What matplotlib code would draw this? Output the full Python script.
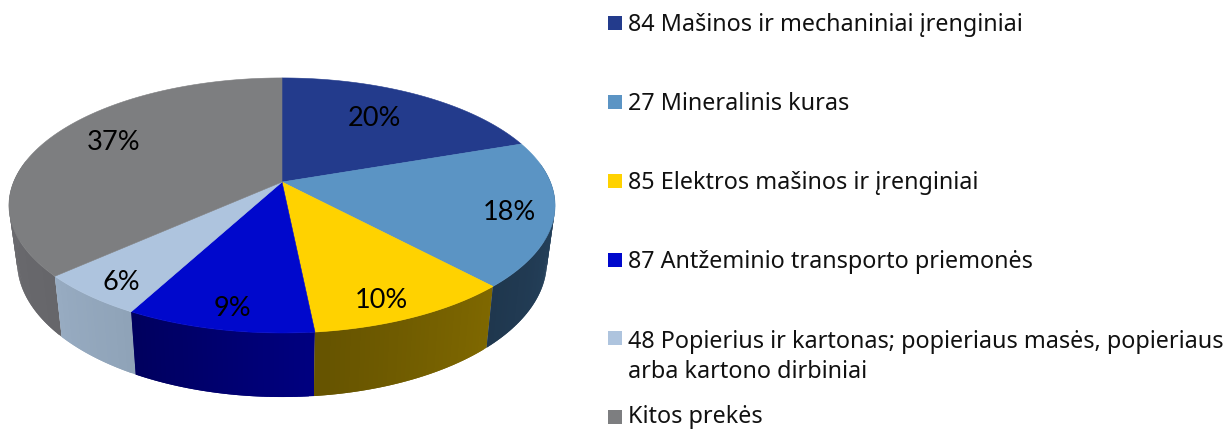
import numpy as np
import matplotlib
matplotlib.use("Agg")
import matplotlib.pyplot as plt
from matplotlib.colors import to_rgb

# --- data -----------------------------------------------------------
categories = ["84 Mašinos ir mechaniniai įrenginiai",
              "27 Mineralinis kuras",
              "85 Elektros mašinos ir įrenginiai",
              "87 Antžeminio transporto priemonės",
              "48 Popierius ir kartonas; popieriaus masės, popieriaus\narba kartono dirbiniai",
              "Kitos prekės"]
values = [19.7, 18.4, 10.3, 9.4, 5.5, 36.7]
percent_labels = ["20%", "18%", "10%", "9%", "6%", "37%"]

# --- styles ---------------------------------------------------------
top_colors = ["#233b8c", "#5b94c4", "#ffd200", "#0008cc", "#aec4de", "#7d7e80"]
wall_start = ["#1a2c69", "#2a4a68", "#7f6800", "#000080", "#8fa3b8", "#66666a"]
wall_end   = ["#1a2c69", "#1f374e", "#655300", "#00005e", "#97abc1", "#76767a"]
label_xy = [(374, 118), (509, 212), (381, 300), (232, 308), (121, 283), (114, 143)]
legend_baseline = [31, 110, 189, 268, 348, 423]
legend_box_top = [16, 95, 174, 253, 331, 410]

# perspective disc geometry (pixels)
CX, CY, A, B, K = 282.0, 182.0, 268.4, 123.2, 0.184
SX, SY, DROP = 0.97, 1.06, 55.0


def top_xy(theta):
    s, c = np.sin(theta), np.cos(theta)
    f = 1 + K * c
    return CX + A * s / f, CY - B * c / f, A * s / f, B * c / f


def bottom_xy(theta):
    _, _, dx, dy = top_xy(theta)
    return CX + SX * dx, CY - SY * dy + DROP


fig = plt.figure(figsize=(12.28, 4.29), dpi=100)
ax = fig.add_axes([0, 0, 1, 1])
ax.set_xlim(0, 1228)
ax.set_ylim(429, 0)
ax.axis("off")

edges = np.cumsum([0.0] + values) / sum(values) * 2 * np.pi

# side walls: painted left to right with overlap so that no seams show
for i in range(len(values)):
    t = np.linspace(edges[i], edges[i + 1], max(8, int(values[i] * 4)) + 1)
    c0, c1 = np.array(to_rgb(wall_start[i])), np.array(to_rgb(wall_end[i]))
    order = np.arange(len(t) - 1)
    for j in order:
        if np.cos(t[j]) > 0.15 and np.cos(t[j + 1]) > 0.15:
            continue
        seg = t[j:j + 3] if i >= 0 else t[j:j + 2]
        seg = np.array([seg[0], seg[-1]])
        x0, y0, *_ = top_xy(seg)
        x1, y1 = bottom_xy(seg)
        col = c0 + (c1 - c0) * j / (len(t) - 2)
        # keep the same colour direction on screen: later segments cover the overlap
        ax.fill([x0[0], x0[1], x1[1], x1[0]], [y0[0], y0[1], y1[1], y1[0]],
                color=col, lw=0, zorder=1 + j * 1e-3)

# top face
for i in range(len(values)):
    t = np.linspace(edges[i], edges[i + 1], 200)
    x, y, *_ = top_xy(t)
    ax.fill(np.r_[CX, x], np.r_[CY, y], color=top_colors[i], lw=0.4, zorder=2)

# percentage labels
for (lx, ly), lab in zip(label_xy, percent_labels):
    ax.text(lx, ly, lab, family="Lato", fontsize=19.5, ha="center", va="center",
            color="black", zorder=3)

# legend
for i, cat in enumerate(categories):
    ax.add_patch(plt.Rectangle((608, legend_box_top[i]), 14, 14, color=top_colors[i], lw=0, zorder=3))
    lines = cat.split("\n")
    for k, line in enumerate(lines):
        ax.text(628, legend_baseline[i] + 30 * k, line, family="Noto Sans", fontsize=16.8,
                ha="left", va="baseline", color="#111111", zorder=3)

fig.savefig("out.png", dpi=100)
